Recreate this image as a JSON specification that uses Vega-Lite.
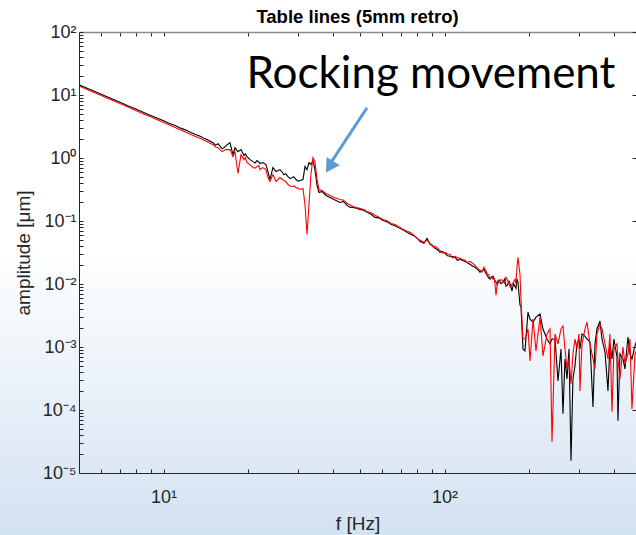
{
  "$schema": "https://vega.github.io/schema/vega-lite/v6.json",
  "width": 557,
  "height": 441,
  "autosize": {"type": "none"},
  "padding": {"left": 79, "top": 32, "right": 0, "bottom": 62},
  "background": "white",
  "title": {"text": "Table lines (5mm retro)", "font": "Liberation Sans", "fontSize": 18.5, "fontWeight": "bold", "color": "#000000", "anchor": "middle", "offset": -3, "zindex": 1},
  "config": {"view": {"stroke": null}, "axis": {"zindex": 2, "grid": false}},
  "data": {"values": [
    {"f":5,"k":14.5,"r":13.9},{"f":5.5,"k":12.09,"r":11.6},{"f":6,"k":10.25,"r":9.8},{"f":6.5,"k":8.81,"r":8.4},
    {"f":7,"k":7.65,"r":7.3},{"f":7.5,"k":6.71,"r":6.4},{"f":8,"k":5.94,"r":5.6},{"f":8.5,"k":5.29,"r":5.0},
    {"f":9,"k":4.74,"r":4.5},{"f":9.5,"k":4.28,"r":4.05},{"f":10,"k":3.89,"r":3.67},{"f":10.5,"k":3.54,"r":3.33},
    {"f":11,"k":3.27,"r":3.05},{"f":11.5,"k":2.98,"r":2.79},{"f":12,"k":2.77,"r":2.57},{"f":12.5,"k":2.54,"r":2.37},
    {"f":13,"k":2.36,"r":2.2},{"f":13.5,"k":2.22,"r":2.05},{"f":14,"k":2.03,"r":1.9},{"f":14.5,"k":1.9,"r":1.76},
    {"f":14.99,"k":1.753,"r":1.629},{"f":15.62,"k":1.69,"r":1.461},{"f":16.14,"k":1.408,"r":1.262},{"f":16.68,"k":1.571,"r":1.358},
    {"f":17.23,"k":1.753,"r":1.358},{"f":17.66,"k":1.132,"r":1.052},{"f":17.95,"k":1.461,"r":1.262},{"f":18.4,"k":1.262,"r":0.567},
    {"f":18.86,"k":1.358,"r":1.132},{"f":19.32,"k":1.091,"r":0.943},{"f":19.81,"k":1.052,"r":0.846},{"f":20.3,"k":0.943,"r":0.786},
    {"f":20.81,"k":0.877,"r":0.705},{"f":21.5,"k":0.91,"r":0.731},{"f":22.03,"k":0.815,"r":0.655},{"f":22.58,"k":0.846,"r":0.705},
    {"f":23.14,"k":0.786,"r":0.655},{"f":23.52,"k":0.609,"r":0.49},{"f":23.91,"k":0.455,"r":0.423},{"f":24.5,"k":0.705,"r":0.546},
    {"f":25.12,"k":0.609,"r":0.423},{"f":25.95,"k":0.655,"r":0.49},{"f":26.82,"k":0.546,"r":0.439},{"f":27.71,"k":0.508,"r":0.379},
    {"f":28.63,"k":0.49,"r":0.353},{"f":29.59,"k":0.455,"r":0.34},{"f":30.58,"k":0.439,"r":0.316},{"f":31.34,"k":0.455,"r":0.328},
    {"f":31.86,"k":0.731,"r":0.183},{"f":32.38,"k":0.655,"r":0.0614},{"f":32.92,"k":0.846,"r":0.183},{"f":33.46,"k":0.786,"r":0.546},
    {"f":34.01,"k":0.91,"r":1.015},{"f":34.57,"k":0.655,"r":0.877},{"f":35.16,"k":0.366,"r":0.455},{"f":35.74,"k":0.284,"r":0.316},
    {"f":36.62,"k":0.294,"r":0.305},{"f":37.84,"k":0.254,"r":0.273},{"f":39.1,"k":0.236,"r":0.254},{"f":40.4,"k":0.22,"r":0.236},
    {"f":42.45,"k":0.197,"r":0.22},{"f":44.96,"k":0.177,"r":0.19},{"f":47.21,"k":0.164,"r":0.17},{"f":50,"k":0.153,"r":0.158},
    {"f":52.95,"k":0.137,"r":0.142},{"f":56.53,"k":0.114,"r":0.123},{"f":60.37,"k":0.102,"r":0.106},{"f":64.46,"k":0.0884,"r":0.0916},
    {"f":69.38,"k":0.0764,"r":0.0792},{"f":73.48,"k":0.066,"r":0.0685},{"f":77.18,"k":0.0592,"r":0.0614},{"f":81.73,"k":0.0475,"r":0.0493},
    {"f":84.46,"k":0.0442,"r":0.0458},{"f":86.56,"k":0.0531,"r":0.0493},{"f":88.74,"k":0.0426,"r":0.0442},{"f":92.45,"k":0.0368,"r":0.0396},
    {"f":96.3,"k":0.0319,"r":0.0343},{"f":100.33,"k":0.0307,"r":0.0319},{"f":104.5,"k":0.0275,"r":0.0296},{"f":108.9,"k":0.0265,"r":0.0275},
    {"f":113.4,"k":0.0247,"r":0.0256},{"f":118.2,"k":0.0229,"r":0.0238},{"f":123.1,"k":0.0206,"r":0.0229},{"f":128.3,"k":0.0184,"r":0.0198},
    {"f":133.7,"k":0.0154,"r":0.0165},{"f":138.1,"k":0.0171,"r":0.0184},{"f":141.6,"k":0.0138,"r":0.0148},{"f":145.1,"k":0.0119,"r":0.0124},
    {"f":148.7,"k":0.0133,"r":0.0119},{"f":152.4,"k":0.0107,"r":0.00665},{"f":156.2,"k":0.0115,"r":0.0107},{"f":161.4,"k":0.0107,"r":0.0111},
    {"f":165.4,"k":0.00923,"r":0.0128},{"f":169.5,"k":0.0111,"r":0.00993},{"f":173.7,"k":0.00769,"r":0.00993},{"f":178.1,"k":0.00923,"r":0.0119},
    {"f":181,"k":0.0119,"r":0.0184},{"f":182.5,"k":0.0107,"r":0.0265},{"f":185.5,"k":0.00462,"r":0.0143},{"f":187,"k":0.00445,"r":0.00575},
    {"f":190.1,"k":0.00093,"r":0.00134},{"f":193.2,"k":0.000865,"r":0.00134},{"f":198.1,"k":0.00358,"r":0.00193},{"f":201.4,"k":0.00277,"r":0.000601},
    {"f":206.4,"k":0.00249,"r":0.00277},{"f":211.5,"k":0.00298,"r":0.000865},{"f":218.6,"k":0.00333,"r":0.00298},{"f":224,"k":0.00193,"r":0.000721},
    {"f":231.5,"k":0.00134,"r":0.00161},{"f":237.2,"k":0.00112,"r":0.00193},{"f":241.2,"k":0.00134,"r":0.0000314},{"f":247.2,"k":0.00134,"r":0.00161},
    {"f":253.3,"k":0.00029,"r":0.00112},{"f":259.6,"k":0.00093,"r":0.00193},{"f":263.9,"k":0.0000871,"r":0.00215},{"f":268.2,"k":0.000646,"r":0.00093},
    {"f":272.7,"k":0.000312,"r":0.000449},{"f":277.2,"k":0.00093,"r":0.000646},{"f":281.8,"k":0.0000157,"r":0.00026},{"f":286.3,"k":0.000312,"r":0.000775},
    {"f":291.1,"k":0.0005,"r":0.00134},{"f":295.9,"k":0.00112,"r":0.00093},{"f":300.8,"k":0.00134,"r":0.00161},{"f":303.3,"k":0.00093,"r":0.000201},
    {"f":308.3,"k":0.00161,"r":0.00112},{"f":316,"k":0.00149,"r":0.00193},{"f":321.2,"k":0.00134,"r":0.00249},{"f":329.2,"k":0.0012,"r":0.00112},
    {"f":337.4,"k":0.000112,"r":0.000646},{"f":343,"k":0.00112,"r":0.000449},{"f":348.6,"k":0.00193,"r":0.00161},{"f":357.3,"k":0.00258,"r":0.00231},
    {"f":363.2,"k":0.00134,"r":0.00193},{"f":372.3,"k":0.000834,"r":0.00112},{"f":381.5,"k":0.000201,"r":0.000646},{"f":387.8,"k":0.00112,"r":0.00161},
    {"f":394.2,"k":0.000646,"r":0.0000936},{"f":400.7,"k":0.00134,"r":0.00093},{"f":410.7,"k":0.000695,"r":0.00112},{"f":414.1,"k":0.0000675,"r":0.000646},
    {"f":420.9,"k":0.000775,"r":0.000312},{"f":431.4,"k":0.000646,"r":0.001},{"f":438.5,"k":0.000449,"r":0.000538},{"f":449.4,"k":0.00144,"r":0.000775},
    {"f":456.8,"k":0.000775,"r":0.00134},{"f":464.4,"k":0.000646,"r":0.000104},{"f":476,"k":0.00104,"r":0.000775},{"f":485,"k":0.00134,"r":0.00093},
    {"f":15.3,"k":1.6,"r":1.5},{"f":16.4,"k":1.45,"r":1.31},{"f":19.55,"k":1.16,"r":1.02},{"f":21.15,"k":0.83,"r":0.69},
    {"f":21.8,"k":0.87,"r":0.76},{"f":26.4,"k":0.6,"r":0.46},{"f":27.25,"k":0.56,"r":0.42},{"f":28.2,"k":0.47,"r":0.36},
    {"f":29.1,"k":0.5,"r":0.36},{"f":30.1,"k":0.43,"r":0.33},
    {"f":43.7,"k":0.205,"r":0.214},{"f":46,"k":0.166,"r":0.181},{"f":48.6,"k":0.16,"r":0.163},{"f":51.5,"k":0.148,"r":0.152},
    {"f":54.7,"k":0.128,"r":0.135},{"f":58.4,"k":0.112,"r":0.115},{"f":62.4,"k":0.097,"r":0.101},{"f":66.9,"k":0.083,"r":0.087},
    {"f":71.4,"k":0.072,"r":0.073},{"f":75.3,"k":0.062,"r":0.066},{"f":79.4,"k":0.055,"r":0.054},{"f":90.6,"k":0.041,"r":0.039},
    {"f":94.4,"k":0.035,"r":0.037},{"f":98.3,"k":0.033,"r":0.031},{"f":102.4,"k":0.028,"r":0.03},{"f":106.7,"k":0.0272,"r":0.0259},
    {"f":111.1,"k":0.0238,"r":0.0262},{"f":115.8,"k":0.0236,"r":0.0245},{"f":120.6,"k":0.0218,"r":0.0218},{"f":125.7,"k":0.0193,"r":0.0214},
    {"f":131,"k":0.0172,"r":0.0178},{"f":135.9,"k":0.0162,"r":0.0155},{"f":139.8,"k":0.0152,"r":0.0168},{"f":143.3,"k":0.0126,"r":0.0141},
    {"f":146.9,"k":0.0128,"r":0.013},{"f":150.5,"k":0.0116,"r":0.0122},{"f":154.3,"k":0.0098,"r":0.0112},{"f":158.8,"k":0.0101,"r":0.0118},
    {"f":163.4,"k":0.0119,"r":0.0103},{"f":167.4,"k":0.0097,"r":0.0115},{"f":171.6,"k":0.0098,"r":0.0089},{"f":175.9,"k":0.0102,"r":0.0106},
    {"f":179.5,"k":0.0085,"r":0.0101}
  ]},
  "layer": [
    {
      "data": {"values": [{}]},
      "mark": {"type": "rect", "clip": false, "fill": {"gradient": "linear", "x1": 0, "y1": 0, "x2": 0, "y2": 1, "stops": [{"offset": 0, "color": "#ffffff"}, {"offset": 0.383, "color": "#ffffff"}, {"offset": 0.884, "color": "#d3e2f2"}, {"offset": 1, "color": "#d3e2f2"}]}},
      "encoding": {
        "x": {"datum": 1, "type": "quantitative", "scale": {"type": "log", "domain": [5, 480], "nice": false},
              "axis": {"orient": "top", "zindex": 2, "values": [6,7,8,9,10,20,30,40,50,60,70,80,90,100,200,300,400], "labels": false, "title": null, "tickSize": -4, "tickColor": "#262626", "domainColor": "#8a8a8a", "domainWidth": 1.5}},
        "x2": {"datum": 3000},
        "y": {"datum": 100, "type": "quantitative", "scale": {"type": "log", "domain": [0.00001, 100], "nice": false},
              "axis": {"orient": "left", "zindex": 2,
                       "values": [0.00001,0.00002,0.00003,0.00004,0.00005,0.00006,0.00007,0.00008,0.00009,0.0001,0.0002,0.0003,0.0004,0.0005,0.0006,0.0007,0.0008,0.0009,0.001,0.002,0.003,0.004,0.005,0.006,0.007,0.008,0.009,0.01,0.02,0.03,0.04,0.05,0.06,0.07,0.08,0.09,0.1,0.2,0.3,0.4,0.5,0.6,0.7,0.8,0.9,1,2,3,4,5,6,7,8,9,10,20,30,40,50,60,70,80,90,100],
                       "labelExpr": "datum.value == 100 ? '10²' : datum.value == 10 ? '10¹' : datum.value == 1 ? '10⁰' : datum.value == 0.1 ? '10⁻¹' : datum.value == 0.01 ? '10⁻²' : datum.value == 0.001 ? '10⁻³' : datum.value == 0.0001 ? '10⁻⁴' : datum.value == 0.00001 ? '10⁻⁵' : ''",
                       "labelFont": "Liberation Sans", "labelFontSize": 18, "labelColor": "#262626", "labelPadding": 7, "labelOverlap": false, "labelFlush": false,
                       "tickSize": -4, "tickColor": "#262626", "domainColor": "#262626",
                       "title": "amplitude [μm]", "titleFont": "Liberation Sans", "titleFontSize": 19, "titleFontWeight": "normal", "titleColor": "#262626", "titlePadding": 9}},
        "y2": {"datum": 0.0000001}
      }
    },
    {
      "mark": {"type": "line", "color": "#000000", "strokeWidth": 1.1, "clip": true},
      "encoding": {
        "x": {"field": "f", "type": "quantitative", "scale": {"type": "log", "domain": [5, 480], "nice": false},
              "axis": {"orient": "bottom", "zindex": 2, "values": [6,7,8,9,10,20,30,40,50,60,70,80,90,100,200,300,400],
                       "labelExpr": "datum.value == 10 ? '10¹' : datum.value == 100 ? '10²' : ''",
                       "labelFont": "Liberation Sans", "labelFontSize": 18, "labelColor": "#262626", "labelPadding": 19, "labelOverlap": false, "labelFlush": false,
                       "tickSize": -4, "tickColor": "#262626", "domainColor": "#262626",
                       "title": "f [Hz]", "titleFont": "Liberation Sans", "titleFontSize": 19, "titleFontWeight": "normal", "titleColor": "#262626", "titlePadding": 8}},
        "y": {"field": "k", "type": "quantitative", "scale": {"type": "log", "domain": [0.00001, 100], "nice": false},
              "axis": {"orient": "right", "zindex": 2, "values": [0.00001,0.0001,0.001,0.01,0.1,1,10,100], "labels": false, "title": null, "tickSize": -4, "tickColor": "#262626", "domainColor": "#262626"}}
      }
    },
    {
      "mark": {"type": "line", "color": "#ff0000", "strokeWidth": 1.1, "clip": true},
      "encoding": {
        "x": {"field": "f", "type": "quantitative", "scale": {"type": "log", "domain": [5, 480], "nice": false}, "axis": null},
        "y": {"field": "r", "type": "quantitative", "scale": {"type": "log", "domain": [0.00001, 100], "nice": false}, "axis": null}
      }
    },
    {
      "data": {"values": [{}]},
      "mark": {"type": "rule", "color": "#5b9bd5", "strokeWidth": 3},
      "encoding": {
        "x": {"datum": 52.95, "type": "quantitative", "axis": null},
        "x2": {"datum": 39.4},
        "y": {"datum": 6.27, "type": "quantitative", "axis": null},
        "y2": {"datum": 0.846}
      }
    },
    {
      "data": {"values": [{}]},
      "mark": {"type": "point", "shape": "triangle-up", "filled": true, "color": "#5b9bd5", "opacity": 1, "size": 240, "angle": 212},
      "encoding": {
        "x": {"datum": 38.97, "type": "quantitative", "axis": null},
        "y": {"datum": 0.723, "type": "quantitative", "axis": null}
      }
    },
    {
      "data": {"values": [{}]},
      "mark": {"type": "text", "text": "Rocking movement", "font": "Lato", "fontSize": 44, "align": "center", "baseline": "alphabetic", "color": "#000000"},
      "encoding": {
        "x": {"datum": 89.4, "type": "quantitative", "axis": null},
        "y": {"datum": 13.0, "type": "quantitative", "axis": null}
      }
    }
  ]
}
